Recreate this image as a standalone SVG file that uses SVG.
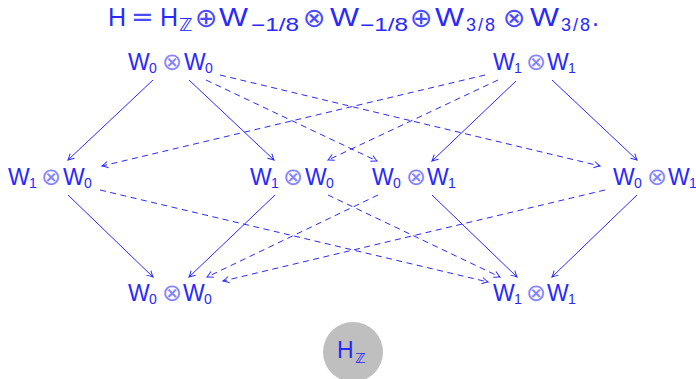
<svg xmlns="http://www.w3.org/2000/svg" width="696" height="379" viewBox="0 0 696 379">
<style>
  text { font-family: "Liberation Sans", "DejaVu Sans", sans-serif; fill: #2a2aff; }
  .t { font-size: 25px; }
  .ts { font-size: 18px; }
  .n { font-size: 23px; }
  .s { font-size: 14px; }
  .o { font-family: "DejaVu Sans", sans-serif; font-size: 24px; fill: #8585ff; }
  .op { font-family: "DejaVu Sans", sans-serif; font-size: 27px; fill: #4a4aff; }
  .e { stroke: #2a2aff; stroke-width: 1; fill: none; }
  .d { stroke-dasharray: 6 4.5; }
</style>
<defs>
  <marker id="ah" markerUnits="userSpaceOnUse" markerWidth="12" markerHeight="12" viewBox="-8 -6 10 12" refX="0" refY="0" orient="auto" overflow="visible">
    <path d="M-6,-3.2 Q-2,-0.8 0,0 Q-2,0.8 -6,3.2" fill="none" stroke="#2a2aff" stroke-width="1" stroke-dasharray="none"/>
  </marker>
</defs>

<g id="title">
  <text class="t" y="26">
    <tspan x="108">H</tspan>
    <tspan class="op" x="131" y="26">=</tspan>
    <tspan x="160" y="26">H</tspan>
    <tspan class="ts" x="179" y="31">ℤ</tspan>
    <tspan class="op" x="195" y="27">⊕</tspan>
    <tspan x="219" y="26" textLength="29" lengthAdjust="spacingAndGlyphs">W</tspan>
    <tspan class="ts" x="251" y="31" textLength="48" lengthAdjust="spacingAndGlyphs">−1/8</tspan>
    <tspan class="op" x="303" y="27">⊗</tspan>
    <tspan x="330" y="26" textLength="29" lengthAdjust="spacingAndGlyphs">W</tspan>
    <tspan class="ts" x="360" y="31" textLength="48" lengthAdjust="spacingAndGlyphs">−1/8</tspan>
    <tspan class="op" x="410" y="27">⊕</tspan>
    <tspan x="435" y="26" textLength="29" lengthAdjust="spacingAndGlyphs">W</tspan>
    <tspan class="ts" x="466" y="31" letter-spacing="2">3/8</tspan>
    <tspan class="op" x="503" y="27">⊗</tspan>
    <tspan x="530" y="26" textLength="29" lengthAdjust="spacingAndGlyphs">W</tspan>
    <tspan class="ts" x="561" y="31" letter-spacing="2">3/8</tspan>
    <tspan x="592" y="26">.</tspan>
  </text>
</g>

<g id="edges">
  <line class="e" x1="153" y1="80" x2="68" y2="160" marker-end="url(#ah)"/>
  <line class="e" x1="189" y1="80" x2="274" y2="160" marker-end="url(#ah)"/>
  <line class="e d" x1="206" y1="80" x2="377" y2="161" marker-end="url(#ah)"/>
  <line class="e d" x1="220" y1="75" x2="600" y2="166" marker-end="url(#ah)"/>
  <line class="e d" x1="485" y1="75" x2="102" y2="166" marker-end="url(#ah)"/>
  <line class="e d" x1="498" y1="80" x2="328" y2="160" marker-end="url(#ah)"/>
  <line class="e" x1="516" y1="81" x2="432" y2="161" marker-end="url(#ah)"/>
  <line class="e" x1="552" y1="80" x2="637" y2="160" marker-end="url(#ah)"/>

  <line class="e" x1="68" y1="195" x2="153" y2="277" marker-end="url(#ah)"/>
  <line class="e d" x1="100" y1="190" x2="488" y2="282" marker-end="url(#ah)"/>
  <line class="e" x1="275" y1="195" x2="189" y2="277" marker-end="url(#ah)"/>
  <line class="e d" x1="328" y1="195" x2="500" y2="277" marker-end="url(#ah)"/>
  <line class="e d" x1="378" y1="195" x2="207" y2="277" marker-end="url(#ah)"/>
  <line class="e" x1="432" y1="195" x2="517" y2="277" marker-end="url(#ah)"/>
  <line class="e d" x1="605" y1="190" x2="223" y2="281" marker-end="url(#ah)"/>
  <line class="e" x1="637" y1="195" x2="552" y2="277" marker-end="url(#ah)"/>
</g>

<g id="n_top_left" transform="translate(128,70)">
  <text class="n"><tspan x="0" y="0">W</tspan><tspan class="s" x="21" y="3">0</tspan><tspan class="o" x="34" y="0">⊗</tspan><tspan x="56" y="0">W</tspan><tspan class="s" x="77" y="3">0</tspan></text>
</g>
<g id="n_top_right" transform="translate(493,70)">
  <text class="n"><tspan x="0" y="0">W</tspan><tspan class="s" x="21" y="3">1</tspan><tspan class="o" x="33" y="0">⊗</tspan><tspan x="54" y="0">W</tspan><tspan class="s" x="75" y="3">1</tspan></text>
</g>
<g id="n_mid_1" transform="translate(8,185)">
  <text class="n"><tspan x="0" y="0">W</tspan><tspan class="s" x="21" y="3">1</tspan><tspan class="o" x="33" y="0">⊗</tspan><tspan x="55" y="0">W</tspan><tspan class="s" x="76" y="3">0</tspan></text>
</g>
<g id="n_mid_2" transform="translate(250,185)">
  <text class="n"><tspan x="0" y="0">W</tspan><tspan class="s" x="21" y="3">1</tspan><tspan class="o" x="33" y="0">⊗</tspan><tspan x="55" y="0">W</tspan><tspan class="s" x="76" y="3">0</tspan></text>
</g>
<g id="n_mid_3" transform="translate(372,185)">
  <text class="n"><tspan x="0" y="0">W</tspan><tspan class="s" x="21" y="3">0</tspan><tspan class="o" x="34" y="0">⊗</tspan><tspan x="55" y="0">W</tspan><tspan class="s" x="76" y="3">1</tspan></text>
</g>
<g id="n_mid_4" transform="translate(613,185)">
  <text class="n"><tspan x="0" y="0">W</tspan><tspan class="s" x="21" y="3">0</tspan><tspan class="o" x="34" y="0">⊗</tspan><tspan x="55" y="0">W</tspan><tspan class="s" x="76" y="3">1</tspan></text>
</g>
<g id="n_bot_left" transform="translate(128,301)">
  <text class="n"><tspan x="0" y="0">W</tspan><tspan class="s" x="21" y="3">0</tspan><tspan class="o" x="34" y="0">⊗</tspan><tspan x="55" y="0">W</tspan><tspan class="s" x="76" y="3">0</tspan></text>
</g>
<g id="n_bot_right" transform="translate(493,301)">
  <text class="n"><tspan x="0" y="0">W</tspan><tspan class="s" x="21" y="3">1</tspan><tspan class="o" x="33" y="0">⊗</tspan><tspan x="54" y="0">W</tspan><tspan class="s" x="75" y="3">1</tspan></text>
</g>

<g id="n_HZ">
  <circle cx="353" cy="352" r="30" fill="#bfbfbf"/>
  <text class="n" x="337" y="358" font-size="25">H</text>
  <text class="s" x="355" y="363" font-size="16">ℤ</text>
</g>
</svg>
